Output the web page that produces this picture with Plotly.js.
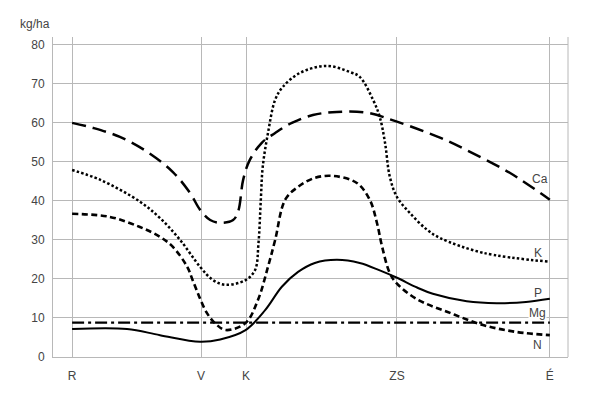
<!DOCTYPE html>
<html>
<head>
<meta charset="utf-8">
<script src="https://cdn.plot.ly/plotly-3.0.1.min.js"></script>
<style>html,body{margin:0;padding:0;background:#fff;}#chart{width:593px;height:398px;}</style>
</head>
<body>
<div id="chart"></div>
<script>
// Category positions along the x axis (R, V, K, ZS, É)
const categories = ["R", "V", "K", "ZS", "É"];
const categoryPos = [0, 2.7, 3.64, 6.8, 10];

// Ca (long dashes)
const caX = [0, 0.44, 1.0, 1.57, 2.11, 2.47, 2.68, 2.89, 3.10, 3.37, 3.48, 3.58, 3.72, 3.97, 4.25, 4.60, 5.04, 5.54, 6.17, 6.80, 7.70, 8.26, 9.16, 10];
const caY = [60, 58.7, 56.4, 52.6, 47.4, 42, 37.7, 35.1, 34.4, 35.1, 37.5, 45.4, 50.5, 54.9, 57.4, 60, 62, 62.8, 62.6, 60.3, 56.2, 53, 47.2, 40.3];

// K (dotted)
const kX = [0, 0.59, 1.42, 1.84, 2.26, 2.68, 2.95, 3.22, 3.63, 3.83, 3.90, 3.95, 3.99, 4.10, 4.25, 4.41, 4.77, 5.33, 5.82, 6.02, 6.30, 6.44, 6.55, 6.65, 6.80, 7.07, 7.43, 7.70, 8.60, 10];
const kY = [47.9, 45.4, 39.8, 35.6, 30, 23.1, 19.7, 18.5, 19.7, 22.3, 29, 40.3, 48.7, 57.4, 65.9, 69.2, 72.8, 74.6, 73, 71.8, 65.9, 61.5, 54.9, 46.2, 41, 36.9, 32.6, 30.5, 26.7, 24.4];

// N (short dashes)
const nX = [0, 0.79, 1.42, 1.84, 2.11, 2.41, 2.53, 2.82, 3.03, 3.22, 3.63, 3.89, 4.10, 4.25, 4.46, 4.73, 5.08, 5.46, 5.96, 6.23, 6.38, 6.49, 6.65, 6.80, 7.22, 7.91, 8.60, 9.31, 10];
const nY = [36.7, 35.9, 33.3, 30.8, 28.2, 23.1, 19.5, 11.3, 8.2, 6.9, 8.7, 14.6, 23.1, 30, 40.3, 43.6, 45.9, 46.4, 44.6, 40.3, 34.4, 28.2, 21.5, 18.8, 14.8, 11.3, 8.2, 6.4, 5.6];

// P (solid)
const pX = [0, 1.15, 1.84, 2.68, 3.10, 3.63, 4.04, 4.39, 4.73, 5.08, 5.54, 6.02, 6.44, 6.80, 7.22, 7.55, 8.26, 8.89, 9.5, 10];
const pY = [7.2, 7.2, 5.6, 3.9, 4.5, 6.9, 12, 18, 21.8, 24.1, 24.9, 24.1, 22.2, 20.3, 17.8, 16.2, 14.3, 13.8, 14.1, 14.9];

// Mg (dash-dot)
const mgX = [0, 2.7, 3.64, 6.8, 10];
const mgY = [8.8, 8.8, 8.8, 8.8, 8.8];

// Series labels
const seriesNames = ["Ca", "K", "P", "Mg", "N"];
const labelX = [9.8, 9.75, 9.75, 9.75, 9.75];
const labelY = [45.6, 26.7, 16.4, 11.3, 3.1];

const font = "Liberation Sans, Arial, Helvetica, sans-serif";
const textColor = "#444";
const gridColor = "#b8b8b8";

const traces = [
  {x: caX, y: caY, name: "Ca", line: {color: "#000", width: 2.5, dash: "14px,7px", shape: "spline", smoothing: 1}},
  {x: kX, y: kY, name: "K", line: {color: "#000", width: 2.5, dash: "2.5px,2.2px", shape: "spline", smoothing: 1}},
  {x: nX, y: nY, name: "N", line: {color: "#000", width: 2.6, dash: "6px,3.5px", shape: "spline", smoothing: 1}},
  {x: pX, y: pY, name: "P", line: {color: "#000", width: 2, shape: "spline", smoothing: 1}},
  {x: mgX, y: mgY, name: "Mg", line: {color: "#000", width: 2.3, dash: "12px,4px,3px,4px"}}
].map(t => Object.assign({type: "scatter", mode: "lines", hoverinfo: "skip"}, t));

const annotations = seriesNames.map((s, i) => ({
  x: labelX[i], y: labelY[i], xref: "x", yref: "y", text: s, showarrow: false,
  font: {family: font, size: 12, color: textColor},
  bgcolor: s === "Mg" ? "#fff" : "rgba(0,0,0,0)", borderpad: 0
}));
annotations.push({
  x: (18 - 53) / 515, y: 1 + (37 - 24) / 320, xref: "paper", yref: "paper",
  xanchor: "left", yanchor: "middle",
  text: "kg/ha", showarrow: false, font: {family: font, size: 12, color: textColor}
});

const layout = {
  width: 593, height: 398,
  margin: {l: 53, r: 25, t: 37, b: 41},
  paper_bgcolor: "#fff", plot_bgcolor: "#fff",
  showlegend: false,
  font: {family: font, size: 12, color: textColor},
  xaxis: {
    range: [-0.4, 10.38], tickvals: categoryPos, ticktext: categories,
    showgrid: true, gridcolor: gridColor, gridwidth: 1,
    zeroline: false, showline: true, linecolor: gridColor, linewidth: 1,
    ticks: "outside", ticklen: 8, tickcolor: "rgba(0,0,0,0)",
    tickfont: {family: font, size: 12, color: textColor}, fixedrange: true
  },
  yaxis: {
    range: [0, 82], tickvals: [0, 10, 20, 30, 40, 50, 60, 70, 80],
    showgrid: true, gridcolor: gridColor, gridwidth: 1,
    zeroline: false, showline: true, linecolor: gridColor, linewidth: 1,
    ticks: "outside", ticklen: 5, tickcolor: "rgba(0,0,0,0)",
    tickfont: {family: font, size: 12, color: textColor}, fixedrange: true
  },
  shapes: [
    {type: "line", xref: "paper", yref: "paper", x0: 1, x1: 1, y0: 0, y1: 1, line: {color: gridColor, width: 1}}
  ],
  annotations: annotations
};

Plotly.newPlot("chart", traces, layout, {staticPlot: true, displayModeBar: false});
</script>
</body>
</html>
